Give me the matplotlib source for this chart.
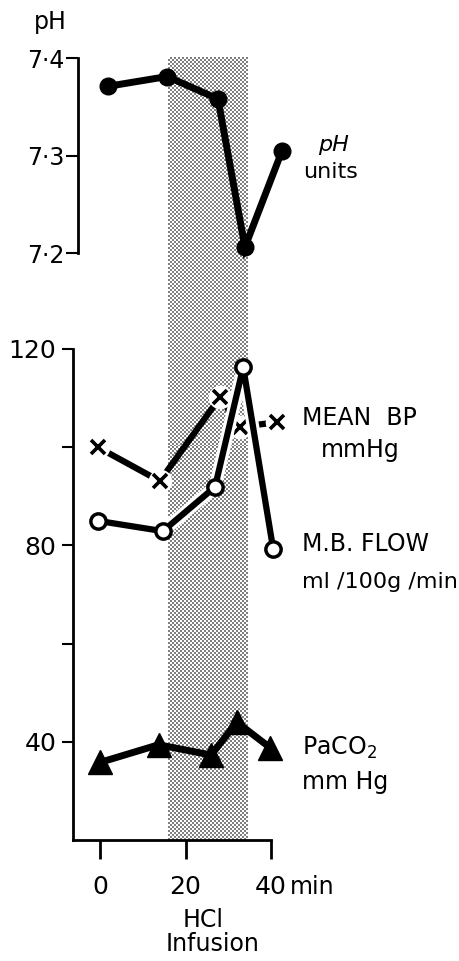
import matplotlib
matplotlib.use("Agg")
import matplotlib.pyplot as plt
import matplotlib.patheffects as pe
import numpy as np

# time (min) and readings for each trace
ph_t = [1.9, 15.7, 27.6, 33.9, 42.6]
ph_val = [7.371, 7.381, 7.358, 7.206, 7.305]

bp_t = [-0.5, 14.0, 28.1, 32.7, 41.4]
bp_val = [100.0, 93.1, 110.2, 104.1, 105.1]

flow_t = [-0.5, 14.7, 26.9, 33.5, 40.5]
flow_val = [85.0, 82.9, 91.9, 116.3, 79.3]

co2_t = [0.0, 13.7, 26.0, 32.0, 39.8]
co2_val = [35.8, 39.4, 37.3, 44.0, 38.8]

infusion = [16.0, 34.5]
ph_ticks = [7.2, 7.3, 7.4]
ph_ticklabels = ["7·2", "7·3", "7·4"]
y_major = [40, 80, 120]
y_minor = [60, 100]
x_ticks = [0, 20, 40]

W, H = 459, 961
PXMIN = 4.275   # pixels per minute
X0 = 100        # pixel column of t = 0


def box(left, top, right, bottom):
    # pixel box -> figure fraction rect
    return [left / W, 1 - bottom / H, (right - left) / W, (bottom - top) / H]


def tmin(px):
    return (px - X0) / PXMIN


plt.rcParams['font.family'] = ['DejaVu Sans']
fig = plt.figure(figsize=(W / 100, H / 100), dpi=100)

# stippled HCl infusion band behind both panels
sh = fig.add_axes(box(73, 57, 271, 840), zorder=0)
sh.set_xlim(tmin(73), tmin(271))
sh.set_ylim(0, 1)
sh.axis('off')
nx, ny = 40, 392
pat = (np.add.outer(np.arange(ny), np.arange(nx)) % 2).astype(float)
sh.imshow(pat, cmap='gray_r', vmin=0, vmax=2.0, interpolation='nearest',
          extent=[infusion[0], infusion[1], 0, 1], aspect='auto')

# --- pH panel ---
ax1 = fig.add_axes(box(78, 58, 330, 253), zorder=2)
ax1.patch.set_visible(False)
ax1.set_xlim(tmin(78), tmin(330))
ax1.set_ylim(7.2, 7.4)
ax1.plot(ph_t, ph_val, color='black', lw=5, marker='o', ms=12,
         clip_on=False, solid_joinstyle='miter')
for s in ['top', 'right', 'bottom']:
    ax1.spines[s].set_visible(False)
ax1.spines['left'].set_linewidth(2)
ax1.set_xticks([])
ax1.set_yticks(ph_ticks)
ax1.set_yticklabels(ph_ticklabels)
ax1.tick_params(axis='y', length=9, width=1.5, pad=1, labelsize=17)
fig.text(50 / W, 1 - 22 / H, "pH", fontsize=17, ha='center', va='center')
fig.text(333 / W, 1 - 145 / H, "pH", fontsize=16, ha='center', va='center',
         style='italic')
fig.text(331 / W, 1 - 172 / H, "units", fontsize=16, ha='center', va='center')

# --- BP / flow / PaCO2 panel ---
ax2 = fig.add_axes(box(73, 349, 271, 840), zorder=2)
ax2.patch.set_visible(False)
ax2.set_xlim(tmin(73), tmin(271))
ax2.set_ylim(20, 120)

# mean BP: line broken around each cross
ax2.plot(bp_t, bp_val, color='black', lw=4.5, clip_on=False, zorder=2)
ax2.plot(bp_t, bp_val, ls='none', marker='o', ms=17, mfc='white',
         mec='none', clip_on=False, zorder=3)
ax2.plot(bp_t, bp_val, ls='none', marker='x', ms=10, mew=2.6,
         color='black', clip_on=False, zorder=4)

# flow line sits on top of BP with a white edge
ax2.plot(flow_t, flow_val, color='black', lw=4.5, clip_on=False, zorder=5,
         path_effects=[pe.Stroke(linewidth=9, foreground='white'), pe.Normal()])
ax2.plot(flow_t, flow_val, ls='none', marker='o', ms=11, mfc='white',
         mec='black', mew=2.5, clip_on=False, zorder=6)

ax2.plot(co2_t, co2_val, color='black', lw=5, marker='^', ms=17,
         clip_on=False, zorder=5)

for s in ['top', 'right']:
    ax2.spines[s].set_visible(False)
ax2.spines['left'].set_linewidth(2)
ax2.spines['bottom'].set_linewidth(2)
ax2.set_yticks(y_major)
ax2.set_yticks(y_minor, minor=True)
ax2.tick_params(axis='y', which='both', length=8, width=1.5, pad=4, labelsize=18)
ax2.set_xticks(x_ticks)
ax2.tick_params(axis='x', length=14, width=2, pad=11, labelsize=18)

fig.text(290 / W, 1 - 887 / H, "min", fontsize=17, ha='left', va='center')
fig.text(203 / W, 1 - 920 / H, "HCl", fontsize=17, ha='center', va='center')
fig.text(213 / W, 1 - 944 / H, "Infusion", fontsize=17, ha='center', va='center')

fig.text(302 / W, 1 - 418 / H, "MEAN  BP", fontsize=17, ha='left', va='center')
fig.text(360 / W, 1 - 450 / H, "mmHg", fontsize=17, ha='center', va='center')
fig.text(302 / W, 1 - 544 / H, "M.B. FLOW", fontsize=17, ha='left', va='center')
fig.text(302 / W, 1 - 582 / H, "ml /100g /min", fontsize=16, ha='left', va='center')
fig.text(302 / W, 1 - 748 / H, r"PaCO$_2$", fontsize=17, ha='left', va='center')
fig.text(302 / W, 1 - 782 / H, "mm Hg", fontsize=17, ha='left', va='center')

fig.savefig("out.png", dpi=100)
